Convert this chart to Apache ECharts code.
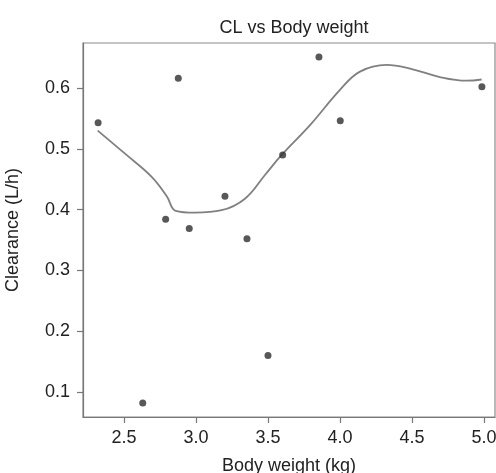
<!DOCTYPE html>
<html>
<head>
<meta charset="utf-8">
<script src="https://cdn.jsdelivr.net/npm/echarts@6/dist/echarts.min.js"></script>
<style>html,body{margin:0;padding:0;background:#fff}#c{width:496px;height:473px}</style>
</head>
<body>
<div id="c"></div>
<script>
// Observed points: body weight (kg) and clearance (L/h)
const weight = [2.32, 2.877, 3.854, 4.002, 4.986, 3.602, 2.789, 2.953, 3.201, 3.354, 3.50, 2.63];
const clearance = [0.543, 0.616, 0.651, 0.546, 0.602, 0.490, 0.384, 0.369, 0.422, 0.352, 0.160, 0.082];
// Smoothed (loess) curve
const smoothX = [2.317, 2.507, 2.692, 2.797, 2.859, 2.993, 3.178, 3.340, 3.479, 3.595, 3.792, 4.0, 4.139, 4.324, 4.486, 4.694, 4.880, 4.984];
const smoothY = [0.530, 0.492, 0.454, 0.422, 0.398, 0.395, 0.399, 0.418, 0.457, 0.490, 0.539, 0.597, 0.627, 0.638, 0.632, 0.618, 0.612, 0.614];
const xTicks = [2.5, 3.0, 3.5, 4.0, 4.5, 5.0];
const yTicks = [0.1, 0.2, 0.3, 0.4, 0.5, 0.6];

const font = 'Liberation Sans, Arial, Helvetica, sans-serif';
const chart = echarts.init(document.getElementById('c'), null, {renderer: 'canvas'});
chart.setOption({
  animation: false,
  backgroundColor: '#fff',
  title: {
    text: 'CL vs Body weight', left: 289, top: 14, textAlign: 'center',
    textStyle: {fontFamily: font, fontSize: 18, fontWeight: 'normal', color: '#222'}
  },
  grid: {left: 83, top: 43, right: 1, bottom: 56, show: true, borderColor: '#8a8a8a', borderWidth: 1.2,
    containLabel: false, outerBoundsMode: 'none'},
  xAxis: {
    type: 'value', min: 2.215, max: 5.077,
    name: 'Body weight (kg)', nameLocation: 'middle', nameGap: 40,
    nameTextStyle: {fontFamily: font, fontSize: 18, color: '#222'},
    axisLine: {show: true, lineStyle: {color: '#777', width: 1.2}},
    axisTick: {show: true, length: 6, lineStyle: {color: '#777', width: 1.2}, customValues: xTicks},
    axisLabel: {fontFamily: font, fontSize: 18, color: '#222', margin: 12, customValues: xTicks,
      hideOverlap: false, formatter: v => v.toFixed(1)},
    splitLine: {show: false}
  },
  yAxis: {
    type: 'value', min: 0.059, max: 0.674,
    name: 'Clearance (L/h)', nameLocation: 'middle', nameGap: 61,
    nameTextStyle: {fontFamily: font, fontSize: 18, color: '#222'},
    axisLine: {show: true, lineStyle: {color: '#777', width: 1.2}},
    axisTick: {show: true, length: 6, lineStyle: {color: '#777', width: 1.2}, customValues: yTicks},
    axisLabel: {fontFamily: font, fontSize: 18, color: '#222', margin: 13, customValues: yTicks,
      formatter: v => v.toFixed(1)},
    splitLine: {show: false}
  },
  series: [
    {
      type: 'line', data: smoothX.map((x, i) => [x, smoothY[i]]),
      smooth: 0.4, showSymbol: false, symbol: 'none',
      lineStyle: {color: '#808080', width: 1.8}, z: 2
    },
    {
      type: 'scatter', data: weight.map((x, i) => [x, clearance[i]]),
      symbol: 'circle', symbolSize: 7,
      itemStyle: {color: '#2e2e2e'}, z: 3
    }
  ]
});
</script>
</body>
</html>
